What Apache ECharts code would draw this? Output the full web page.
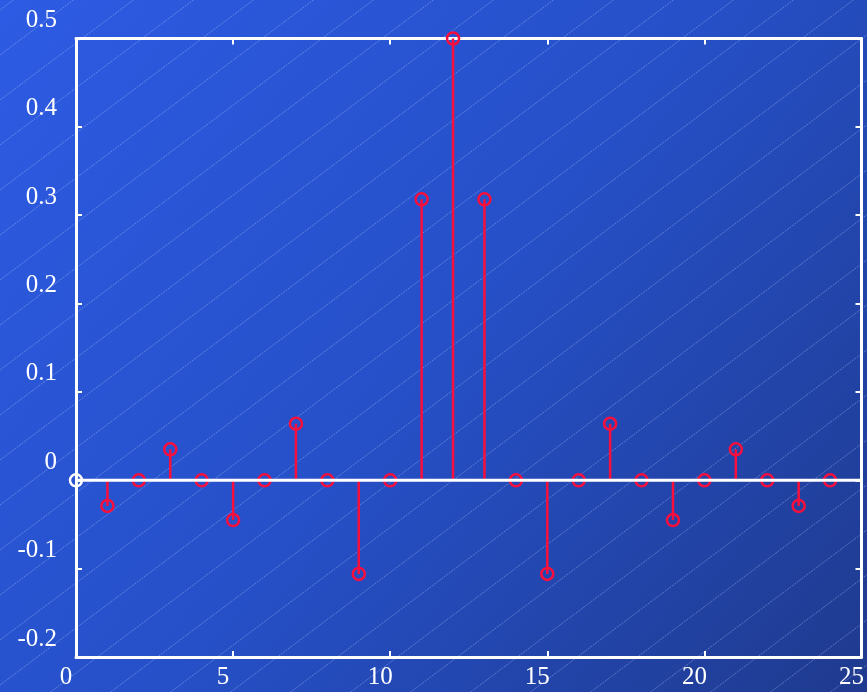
<!DOCTYPE html>
<html>
<head>
<meta charset="utf-8">
<script src="https://cdn.jsdelivr.net/npm/echarts@6/dist/echarts.min.js"></script>
<style>
html,body{margin:0;padding:0;background:#2548c4;}
#chart{width:867px;height:692px;}
</style>
</head>
<body>
<div id="chart"></div>
<script>
// Data
const nValues = [1,2,3,4,5,6,7,8,9,10,11,12,13,14,15,16,17,18,19,20,21,22,23,24];
const hValues = [-0.029,0,0.035,0,-0.045,0,0.064,0,-0.106,0,0.318,0.5,0.318,0,-0.106,0,0.064,0,-0.045,0,0.035,0,-0.029,0];
const originPoint = [[0,0]];
const xTicks = [0,5,10,15,20,25];
const yTicks = [-0.2,-0.1,0,0.1,0.2,0.3,0.4,0.5];

const points = nValues.map((n,i)=>[n,hValues[i]]);

// decorative diagonal background lines
const W = 867, H = 692;
const deco = [];
for (let b = 10; b < H + 0.75*W + 45; b += 45) {
  deco.push({
    type:'line', silent:true, z:-1,
    shape:{x1:0,y1:b,x2:W,y2:b-0.75*W},
    style:{stroke:'rgba(190,205,255,0.38)', lineWidth:1, lineDash:[2,1]}
  });
}

const FONT = 'Liberation Serif, Times New Roman, serif';
const RED = '#fa0f3c';
const chart = echarts.init(document.getElementById('chart'), null, {renderer:'canvas'});
const axisLineStyle = {color:'#ffffff', width:3};
chart.setOption({
  animation:false,
  backgroundColor:{type:'linear',x:0,y:0,x2:1,y2:1,colorStops:[
    {offset:0,color:'#2d5be3'},{offset:0.5,color:'#2650c8'},{offset:1,color:'#1f3a8e'}]},
  graphic: deco,
  grid:{left:76,right:1,top:38.5,bottom:35,containLabel:false},
  xAxis:[{
    type:'value', min:xTicks[0], max:xTicks[xTicks.length-1], interval:5, position:'bottom',
    axisLine:{show:true,onZero:false,lineStyle:axisLineStyle},
    axisTick:{show:true,inside:true,length:6,lineStyle:{color:'#fff',width:2}},
    splitLine:{show:false},
    axisLabel:{color:'#fff',fontFamily:FONT,fontSize:25,margin:8,align:'center',showMaxLabel:true,showMinLabel:true,
      formatter:v=>'{a|'+v+'}',
      rich:{a:{color:'#fff',fontFamily:FONT,fontSize:25,padding:[0,20,0,0]}}}
  },{
    type:'value', min:xTicks[0], max:xTicks[xTicks.length-1], interval:5, position:'top',
    axisLine:{show:true,onZero:false,lineStyle:axisLineStyle},
    axisTick:{show:true,inside:true,length:6,lineStyle:{color:'#fff',width:2}},
    splitLine:{show:false}, axisLabel:{show:false}
  }],
  yAxis:[{
    type:'value', min:yTicks[0], max:yTicks[yTicks.length-1], interval:0.1, position:'left',
    axisLine:{show:true,onZero:false,lineStyle:axisLineStyle},
    axisTick:{show:true,inside:true,length:6,lineStyle:{color:'#fff',width:2}},
    splitLine:{show:false},
    axisLabel:{color:'#fff',fontFamily:FONT,fontSize:25,margin:19,verticalAlign:'middle',
      formatter:v=>{const r=Math.round(v*10)/10; return '{a|'+(r===0?'0':String(r))+'}';},
      rich:{a:{color:'#fff',fontFamily:FONT,fontSize:25,padding:[0,0,36,0]}}}
  },{
    type:'value', min:yTicks[0], max:yTicks[yTicks.length-1], interval:0.1, position:'right',
    axisLine:{show:true,onZero:false,lineStyle:axisLineStyle},
    axisTick:{show:true,inside:true,length:6,lineStyle:{color:'#fff',width:2}},
    splitLine:{show:false}, axisLabel:{show:false}
  }],
  series:[
    {
      type:'custom', xAxisIndex:0, yAxisIndex:0, z:3,
      data: points,
      renderItem:(params, api)=>{
        const p = api.coord([api.value(0), api.value(1)]);
        const b = api.coord([api.value(0), 0]);
        return {type:'line', shape:{x1:p[0],y1:p[1],x2:b[0],y2:b[1]},
          style:{stroke:RED,lineWidth:2.5}};
      }
    },
    {
      type:'scatter', xAxisIndex:0, yAxisIndex:0, z:4,
      data: points, symbol:'circle', symbolSize:12,
      itemStyle:{color:'rgba(0,0,0,0)',borderColor:RED,borderWidth:2.5, opacity:1}
    },
    {
      type:'line', xAxisIndex:0, yAxisIndex:0, z:5, symbol:'none',
      data:[[xTicks[0],0],[xTicks[xTicks.length-1],0]],
      lineStyle:{color:'#ffffff',width:3}
    },
    {
      type:'scatter', xAxisIndex:0, yAxisIndex:0, z:6,
      data: originPoint, symbol:'circle', symbolSize:12,
      itemStyle:{color:'rgba(0,0,0,0)',borderColor:'#ffffff',borderWidth:2.5, opacity:1}
    }
  ]
});
</script>
</body>
</html>
